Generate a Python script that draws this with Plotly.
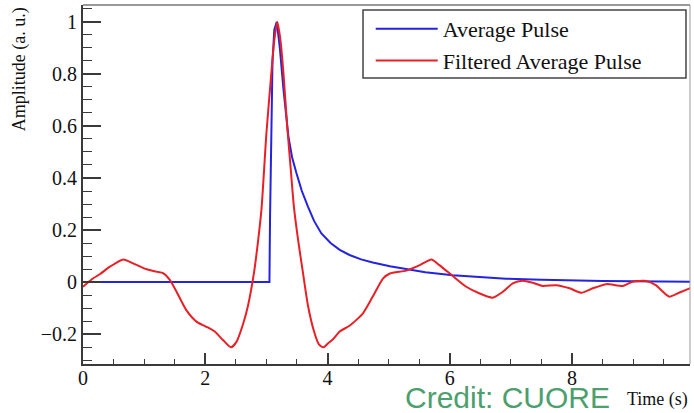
import plotly.graph_objects as go

# Average pulse (time in s, amplitude in arbitrary units)
avg_t = [0.0, 1.0, 2.0, 3.05, 3.06, 3.08, 3.10, 3.13, 3.17, 3.22, 3.28, 3.36,
         3.42, 3.49, 3.58, 3.68, 3.78, 3.90, 4.05, 4.20, 4.36, 4.55, 4.74,
         5.02, 5.29, 5.60, 6.05, 6.50, 6.92, 7.50, 8.00, 8.50, 9.00, 9.50, 10.0]
avg_amp = [0.0, 0.0, 0.0, 0.0, 0.25, 0.60, 0.85, 0.97, 1.0, 0.90, 0.74, 0.56,
           0.48, 0.42, 0.35, 0.29, 0.235, 0.187, 0.150, 0.124, 0.104, 0.087, 0.075,
           0.061, 0.049, 0.038, 0.026, 0.018, 0.013, 0.009, 0.006, 0.004, 0.003, 0.002, 0.001]

# Filtered average pulse
filt_t = [0.0, 0.14, 0.28, 0.44, 0.66, 0.82, 1.04, 1.20, 1.31, 1.42, 1.53, 1.69,
          1.86, 2.02, 2.16, 2.29, 2.42, 2.51, 2.62, 2.70, 2.80, 2.86, 2.92, 3.00,
          3.08, 3.13, 3.18, 3.23, 3.28, 3.34, 3.40, 3.45, 3.52, 3.60, 3.68, 3.78,
          3.86, 3.93, 4.01, 4.09, 4.20, 4.36, 4.58, 4.74, 4.91, 5.02, 5.29, 5.51,
          5.70, 5.83, 6.05, 6.27, 6.49, 6.70, 6.87, 7.03, 7.19, 7.36, 7.52, 7.74,
          7.96, 8.15, 8.34, 8.56, 8.83, 8.99, 9.21, 9.37, 9.59, 9.75, 9.97]
filt_amp = [-0.018, 0.010, 0.031, 0.059, 0.087, 0.072, 0.049, 0.040, 0.034, 0.008, -0.037, -0.108,
            -0.153, -0.172, -0.191, -0.223, -0.251, -0.230, -0.160, -0.090, 0.040, 0.150, 0.280, 0.570,
            0.800, 0.930, 1.0, 0.930, 0.800, 0.600, 0.430, 0.290, 0.160, 0.033, -0.090, -0.190,
            -0.240, -0.251, -0.235, -0.220, -0.190, -0.168, -0.120, -0.056, 0.014, 0.033, 0.044, 0.065,
            0.087, 0.065, 0.023, -0.018, -0.044, -0.060, -0.037, -0.005, 0.005, -0.003, -0.015, -0.012,
            -0.024, -0.041, -0.024, -0.008, -0.015, 0.001, 0.004, -0.012, -0.056, -0.041, -0.020]

y_ticks = [-0.2, 0, 0.2, 0.4, 0.6, 0.8, 1]
y_tick_text = ["\u22120.2", "0", "0.2", "0.4", "0.6", "0.8", "1"]
x_ticks = [0, 2, 4, 6, 8]

SERIF = "Liberation Serif, Times New Roman, Times, serif"
AXIS = "#3a3a3a"

fig = go.Figure()
fig.add_trace(go.Scatter(x=avg_t, y=avg_amp, mode="lines", name="Average Pulse",
                         line=dict(color="rgb(35,35,225)", width=2)))
fig.add_trace(go.Scatter(x=filt_t, y=filt_amp, mode="lines", name="Filtered Average Pulse",
                         line=dict(color="rgb(232,32,38)", width=2, shape="spline", smoothing=0.6)))

fig.update_layout(
    width=694, height=413,
    margin=dict(l=83, r=4, t=5, b=49),
    paper_bgcolor="white", plot_bgcolor="white",
    font=dict(family=SERIF, size=20, color="#111"),
    showlegend=True,
    legend=dict(x=0.474, y=0.9916, xanchor="left", yanchor="top",
                bgcolor="rgba(0,0,0,0)", borderwidth=0,
                font=dict(family=SERIF, size=22, color="#111"),
                itemwidth=62, tracegroupgap=0),
    xaxis=dict(range=[0, 9.93], showgrid=False, zeroline=False,
               showline=True, linecolor=AXIS, linewidth=2,
               ticks="inside", ticklen=11, tickwidth=1.5, tickcolor=AXIS,
               tickvals=x_ticks, ticktext=[str(v) for v in x_ticks],
               ticklabelstandoff=-5,
               minor=dict(dtick=0.5, tick0=0, ticks="inside", ticklen=5,
                          tickwidth=1.2, tickcolor=AXIS, showgrid=False),
               tickfont=dict(family=SERIF, size=20, color="#111")),
    yaxis=dict(range=[-0.315, 1.065], showgrid=False, zeroline=False,
               showline=True, linecolor=AXIS, linewidth=2,
               ticks="inside", ticklen=18, tickwidth=1.5, tickcolor=AXIS,
               tickvals=y_ticks, ticktext=y_tick_text,
               minor=dict(dtick=0.05, tick0=0, ticks="inside", ticklen=9,
                          tickwidth=1.2, tickcolor=AXIS, showgrid=False),
               tickfont=dict(family=SERIF, size=20, color="#111")),
)

# Legend frame
fig.add_shape(type="rect", xref="paper", yref="paper",
              x0=0.4613, x1=0.9934, y0=0.7967, y1=0.9861,
              line=dict(color="#444", width=1.5), fillcolor="white", layer="below")

# Top and right edges of the frame
fig.add_shape(type="line", xref="paper", yref="paper", x0=0, x1=1, y0=1, y1=1,
              line=dict(color="#777", width=1.5))
fig.add_shape(type="line", xref="paper", yref="paper", x0=1, x1=1, y0=0, y1=1,
              line=dict(color="#999", width=1))

fig.add_annotation(text="Amplitude (a. u.)", xref="paper", yref="paper",
                   x=-0.105, y=1.0, xanchor="center", yanchor="top", textangle=-90,
                   showarrow=False, font=dict(family=SERIF, size=18, color="#111"))
fig.add_annotation(text="Time (s)", xref="paper", yref="paper",
                   x=1.0, y=-0.098, xanchor="right", yanchor="middle",
                   showarrow=False, font=dict(family=SERIF, size=18, color="#111"))
fig.add_annotation(text="Credit: CUORE", xref="paper", yref="paper",
                   x=0.527, y=-0.1365, xanchor="left", yanchor="bottom", yshift=-3,
                   showarrow=False, font=dict(family="Liberation Sans, Arial, sans-serif",
                                              size=30, color="rgb(76,160,108)"))

fig.write_html("out.html")
